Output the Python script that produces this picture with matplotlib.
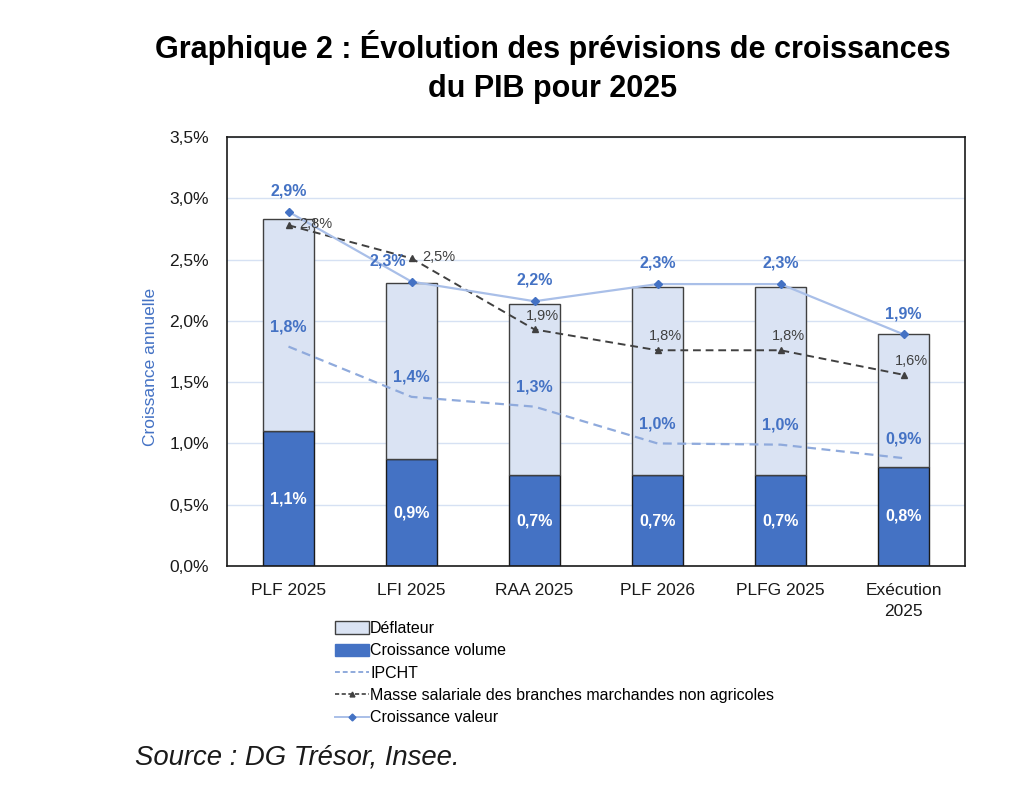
import matplotlib
matplotlib.use("Agg")
import matplotlib.pyplot as plt
from matplotlib.ticker import FuncFormatter, MultipleLocator
from matplotlib.patches import Patch
from matplotlib.lines import Line2D

plt.rcParams['font.family'] = ['Liberation Sans', 'DejaVu Sans']

categories = ["PLF 2025", "LFI 2025", "RAA 2025", "PLF 2026", "PLFG 2025", "Exécution\n2025"]
volume = [1.10, 0.87, 0.74, 0.74, 0.74, 0.81]
deflateur = [1.73, 1.44, 1.40, 1.54, 1.54, 1.08]
ipcht = [1.79, 1.38, 1.30, 1.00, 0.99, 0.88]
masse_salariale = [2.78, 2.51, 1.93, 1.76, 1.76, 1.56]
valeur = [2.89, 2.32, 2.16, 2.30, 2.30, 1.89]

title = "Graphique 2 : Évolution des prévisions de croissances\ndu PIB pour 2025"
source = "Source : DG Trésor, Insee."

C_DARK = "#4472C4"
C_LIGHT = "#DAE3F3"
C_VAL = "#A9BFE8"
C_IPC = "#8FAADC"
C_MASSE = "#404040"

def pct(v):
    return f"{v:.1f}".replace(".", ",") + "%"

fig = plt.figure(figsize=(10.24, 7.85), dpi=100)
ax = fig.add_axes([227/1024, 1-566/785, 738/1024, 429/785])

x = list(range(len(categories)))
w = 0.41
ax.bar(x, volume, width=w, color=C_DARK, edgecolor="#1a1a1a", linewidth=1.0, zorder=2)
ax.bar(x, deflateur, width=w, bottom=volume, color=C_LIGHT, edgecolor="#404040", linewidth=1.0, zorder=2)

ax.plot(x, ipcht, color=C_IPC, lw=1.6, ls=(0, (4, 2.5)), zorder=3)
ax.plot(x, masse_salariale, color=C_MASSE, lw=1.4, ls=(0, (4, 2.5)), marker="^", ms=5,
        markerfacecolor=C_MASSE, markeredgecolor=C_MASSE, zorder=4)
ax.plot(x, valeur, color=C_VAL, lw=1.6, marker="D", ms=4.5,
        markerfacecolor=C_DARK, markeredgecolor=C_DARK, zorder=5)

# labels
for i in x:
    ax.text(i, volume[i] / 2, pct(volume[i]), ha="center", va="center", color="white",
            fontsize=11.5, fontweight="bold", zorder=6)
    ax.annotate(pct(ipcht[i]), (i, ipcht[i]), xytext=(0, 14), textcoords="offset points",
                ha="center", va="center", color=C_DARK, fontsize=11.5, fontweight="bold", zorder=6)
    dx = -17 if i == 1 else 0
    ax.annotate(pct(valeur[i]), (i, valeur[i]), xytext=(dx, 15), textcoords="offset points",
                ha="center", va="center", color=C_DARK, fontsize=11.5, fontweight="bold", zorder=6)
    if i in (0, 1):
        off = (20, 1)
    else:
        off = (6, 10)
    ax.annotate(pct(masse_salariale[i]), (i, masse_salariale[i]), xytext=off, textcoords="offset points",
                ha="center", va="center", color="#404040", fontsize=10.5, zorder=6)

ax.set_xlim(-0.5, 5.5)
ax.set_ylim(0, 3.5)
ax.yaxis.set_major_locator(MultipleLocator(0.5))
ax.yaxis.set_major_formatter(FuncFormatter(lambda v, p: f"{v:.1f}".replace(".", ",") + "%"))
ax.set_xticks(x)
ax.set_xticklabels(categories, linespacing=1.55)
ax.tick_params(axis="both", length=0, labelsize=12.5, colors="#1a1a1a")
ax.tick_params(axis="x", pad=12)
ax.tick_params(axis="y", pad=13)
ax.grid(axis="y", color="#D6E1F3", lw=1.0, zorder=0)
ax.set_axisbelow(True)
for s in ax.spines.values():
    s.set_color("#1a1a1a")
    s.set_linewidth(1.2)

ax.set_ylabel("Croissance annuelle", color=C_DARK, fontsize=12.5)
ax.yaxis.set_label_coords(-0.094, 0.465)

handles = [
    Patch(facecolor=C_LIGHT, edgecolor="#404040", linewidth=1.0),
    Patch(facecolor=C_DARK, edgecolor=C_DARK),
    Line2D([], [], color=C_IPC, lw=1.4, ls=(0, (2.5, 1.5))),
    Line2D([], [], color=C_MASSE, lw=1.2, ls=(0, (2.5, 1.5)), marker="^", ms=3.5),
    Line2D([], [], color=C_VAL, lw=1.4, marker="D", ms=3.5, markerfacecolor=C_DARK, markeredgecolor=C_DARK),
]
labels = ["Déflateur", "Croissance volume", "IPCHT",
          "Masse salariale des branches marchandes non agricoles", "Croissance valeur"]
fig.legend(handles, labels, loc="upper left", bbox_to_anchor=(335/1024, 1-621/785),
           frameon=False, fontsize=11.5, handlelength=2.1, handleheight=0.8, handletextpad=0.1,
           labelspacing=0.46, borderaxespad=0, borderpad=0)

fig.text(553/1024, 1-67/785, title, ha="center", va="center", fontsize=22, fontweight="bold",
         linespacing=1.4, color="black")
fig.text(135/1024, 1-757/785, source, ha="left", va="center", fontsize=19.8, style="italic", color="#1a1a1a")

fig.savefig("out.png", dpi=100)
